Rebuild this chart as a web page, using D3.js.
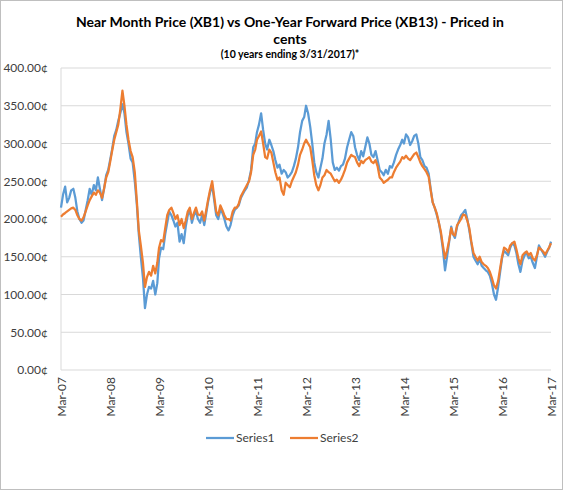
<!DOCTYPE html>
<html>
<head>
<meta charset="utf-8">
<script src="https://cdn.jsdelivr.net/npm/d3@7"></script>
<style>
  body { margin: 0; background: #fff; }
  svg { font-family: Lato, "Open Sans", sans-serif; }
</style>
</head>
<body>
<svg width="563" height="490"></svg>
<script>
// twice-monthly readings (1st and 16th), Mar-07 .. Mar-17, in cents
const startMonth = new Date(2007, 2, 1);
const series1 = [
  215,232, 243,222, 228,238, 240,228, 210,200, 195,198, 212,225, 240,232, 245,238, 255,240, 225,240, 258,265,
  278,292, 310,318, 330,340, 352,340, 315,300, 280,275, 250,220, 180,150, 122,82, 100,110, 108,118, 100,115,
  148,162, 160,180, 195,210, 205,198, 190,195, 170,180, 168,190, 205,212, 195,205, 210,200, 195,205, 192,208,
  222,235, 245,225, 205,200, 212,208, 200,190, 185,192, 205,212, 215,218, 228,233, 238,242, 252,265, 295,300,
  315,325, 340,318, 300,292, 305,298, 290,278, 268,272, 260,265, 262,255, 258,262, 270,280, 295,315, 330,335,
  350,340, 322,300, 275,262, 255,268, 280,300, 312,330, 305,275, 265,268, 264,270, 272,280, 295,305, 315,310,
  295,285, 278,290, 283,295, 308,300, 285,282, 290,278, 265,262, 258,265, 260,270, 268,275, 285,292, 298,305,
  300,312, 308,298, 303,310, 312,300, 282,278, 270,268, 260,240, 222,215, 205,195, 180,160, 132,150, 170,190,
  180,175, 190,198, 205,208, 212,200, 185,168, 150,145, 140,148, 138,135, 132,130, 125,115, 100,93, 110,130,
  148,158, 155,152, 162,168, 165,155, 140,130, 145,152, 155,148, 150,142, 135,150, 165,160, 155,150, 157,162,
  170
];
const series2 = [
  203,206, 208,210, 212,214, 215,212, 205,200, 198,202, 210,218, 225,230, 235,232, 238,235, 228,240, 255,262,
  275,290, 305,315, 325,345, 370,350, 325,305, 290,282, 262,225, 185,165, 142,110, 123,130, 125,138, 128,142,
  162,172, 170,188, 205,212, 215,208, 200,205, 192,200, 188,198, 210,215, 200,208, 215,206, 205,210, 198,212,
  225,238, 250,230, 210,205, 218,212, 205,200, 200,198, 210,215, 215,220, 230,235, 240,245, 250,262, 285,292,
  305,310, 316,300, 282,280, 292,288, 275,262, 252,255, 238,232, 248,245, 242,250, 256,262, 272,285, 292,300,
  305,300, 295,278, 258,245, 238,245, 255,258, 265,262, 260,255, 250,252, 248,252, 258,265, 275,280, 285,283,
  282,275, 270,277, 274,278, 280,282, 276,274, 278,270, 255,252, 248,250, 252,255, 255,262, 268,272, 276,282,
  280,284, 280,278, 282,286, 288,282, 275,270, 266,262, 256,238, 222,215, 207,195, 183,165, 148,158, 172,188,
  180,178, 192,196, 200,206, 205,198, 188,170, 155,150, 145,150, 143,140, 138,135, 130,122, 112,108, 118,135,
  150,162, 160,156, 165,168, 170,160, 148,140, 152,155, 157,152, 155,148, 145,152, 162,160, 157,153, 158,163,
  168
];
const seriesNames = ["Series1", "Series2"];
const seriesColors = ["#5b9bd5", "#ed7d31"];
const yTicks = [0, 50, 100, 150, 200, 250, 300, 350, 400];
const xTickYears = [2007, 2008, 2009, 2010, 2011, 2012, 2013, 2014, 2015, 2016, 2017];

const svg = d3.select("svg");
const width = 563, height = 490;
const margin = { left: 61, right: 12, top: 68, bottom: 120 };

// chart border
svg.append("rect")
  .attr("x", 0.5).attr("y", 0.5)
  .attr("width", width - 1).attr("height", height - 1)
  .attr("fill", "#fff").attr("stroke", "#bfbfbf");

const x = d3.scaleTime()
  .domain([startMonth, new Date(2017, 2, 1)])
  .range([margin.left, width - margin.right]);

const y = d3.scaleLinear()
  .domain([0, 400])
  .range([height - margin.bottom, margin.top]);

// date of the i-th reading
const dateAt = i => new Date(2007, 2 + Math.floor(i / 2), i % 2 ? 16 : 1);

// gridlines
svg.append("g")
  .selectAll("line")
  .data(yTicks)
  .join("line")
  .attr("x1", margin.left).attr("x2", width - margin.right)
  .attr("y1", d => y(d)).attr("y2", d => y(d))
  .attr("stroke", "#d9d9d9").attr("stroke-width", 1);

svg.append("line")
  .attr("x1", margin.left).attr("x2", margin.left)
  .attr("y1", y(0)).attr("y2", y(400))
  .attr("stroke", "#d9d9d9");

// y axis labels
const yAxis = svg.append("g")
  .attr("transform", `translate(${margin.left},0)`)
  .call(d3.axisLeft(y).tickValues(yTicks).tickSize(0).tickPadding(13)
    .tickFormat(d => d3.format(".2f")(d) + "¢"));
yAxis.select(".domain").remove();
yAxis.selectAll("text").attr("font-size", 12).attr("fill", "#404040")
  .attr("font-family", "Lato, sans-serif");

// x axis labels, rotated
const xAxis = svg.append("g")
  .attr("transform", `translate(0,${y(0)})`)
  .call(d3.axisBottom(x)
    .tickValues(xTickYears.map(yr => new Date(yr, 2, 1)))
    .tickSize(0)
    .tickFormat(d3.timeFormat("%b-%y")));
xAxis.select(".domain").remove();
xAxis.selectAll("text")
  .attr("font-size", 12).attr("fill", "#404040")
  .attr("font-family", "Lato, sans-serif")
  .attr("text-anchor", "end")
  .attr("transform", "rotate(-90)")
  .attr("x", -7).attr("y", 0).attr("dy", "0.35em");

// lines
const line = d3.line()
  .x((d, i) => x(dateAt(i)))
  .y(d => y(d));

[series1, series2].forEach((s, k) => {
  svg.append("path")
    .datum(s)
    .attr("fill", "none")
    .attr("stroke", seriesColors[k])
    .attr("stroke-width", 2.25)
    .attr("stroke-linejoin", "round")
    .attr("d", line);
});

// title
const title = svg.append("text")
  .attr("text-anchor", "middle")
  .attr("font-weight", "bold")
  .attr("font-size", 14)
  .attr("fill", "#000");
title.append("tspan").attr("x", 290).attr("y", 27)
  .text("Near Month Price (XB1) vs One-Year Forward Price (XB13) - Priced in");
title.append("tspan").attr("x", 290).attr("y", 44).text("cents");
svg.append("text")
  .attr("x", 290).attr("y", 58)
  .attr("text-anchor", "middle")
  .attr("font-weight", "bold")
  .attr("font-size", 10.5)
  .text("(10 years ending 3/31/2017)*");

// legend
const legend = svg.append("g").attr("transform", "translate(206,438)");
seriesNames.forEach((name, k) => {
  const g = legend.append("g").attr("transform", `translate(${k * 84},0)`);
  g.append("line").attr("x1", 0).attr("x2", 28).attr("y1", 0).attr("y2", 0)
    .attr("stroke", seriesColors[k]).attr("stroke-width", 2.25);
  g.append("text").attr("x", 30).attr("y", 0).attr("dy", "0.35em")
    .attr("font-size", 12).attr("fill", "#404040").text(name);
});
</script>
</body>
</html>
